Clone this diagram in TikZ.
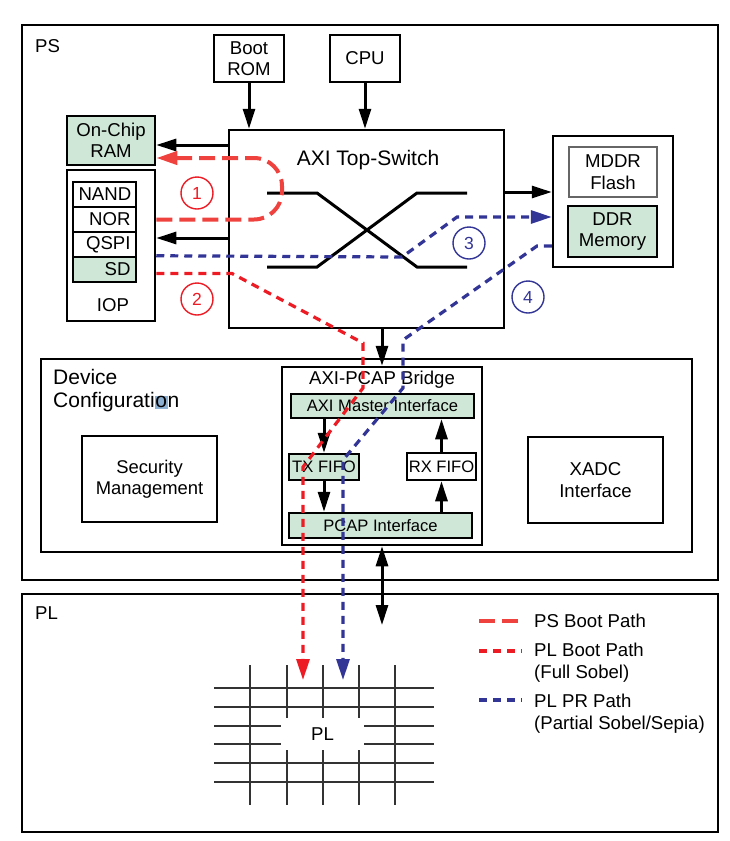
\documentclass[tikz,border=0pt]{standalone}
\usepackage{fontspec}
\setmainfont{Liberation Sans}
\usetikzlibrary{arrows.meta}
\definecolor{blkgreen}{RGB}{207,231,214}
\definecolor{psred}{RGB}{239,66,62}
\definecolor{plred}{RGB}{237,28,36}
\definecolor{prblue}{RGB}{50,52,150}
\definecolor{hlblue}{RGB}{140,176,210}
\tikzset{
	blk/.style={
		draw,
		line width=2.5pt,
		inner sep=0pt,
		align=center,
		font=\fontsize{18.6}{21.5}\selectfont
	},
	memcell/.style={blk, minimum width=63pt, minimum height=25pt, text width=52pt, align=right},
	grn/.style={fill=blkgreen},
	bus/.style={line width=3pt, -{Triangle[length=20pt,width=12pt]}},
	dtip/.style={-{Triangle[length=21pt,width=13pt]}},
	psboot/.style={psred, line width=4pt, dash pattern=on 16pt off 7pt},
	plboot/.style={plred, line width=3.2pt, dash pattern=on 8pt off 6pt},
	prpath/.style={prblue, line width=3.2pt, dash pattern=on 8pt off 6pt},
	stepno/.style={circle, draw, line width=1.4pt, minimum size=32pt, inner sep=0pt, font=\fontsize{17.5}{20}\selectfont},
	lbl/.style={inner sep=0pt, font=\fontsize{18.6}{21.5}\selectfont},
	fabric/.style={line width=1.5pt, black!80}
}

\begin{document}
\begin{tikzpicture}[x=1pt, y=-1pt]
	\useasboundingbox (0,0) rectangle (729,841);

	% PS / PL frames
	\node[blk, minimum width=696pt, minimum height=555pt] (ps) at (370,302.5) {};
	\node[blk, minimum width=696pt, minimum height=238pt] (pl) at (370,713) {};
	\node[lbl, anchor=base west] (pslbl) at (35,52) {PS};
	\node[lbl, anchor=base west] (pllbl) at (35,619) {PL};

	% processing system
	\node[blk, minimum width=70pt, minimum height=47pt] (bootrom) at (249,58.5) {Boot\\ROM};
	\node[blk, minimum width=70pt, minimum height=47pt] (cpu) at (365,58.5) {CPU};
	\node[blk, minimum width=275pt, minimum height=198pt] (axi) at (366.5,229) {};
	\node[lbl, font=\fontsize{21}{24}\selectfont] (axittl) at (368,160) {AXI Top-Switch};
	\draw[line width=3pt] (267,193) -- (317,193) -- (417,267) -- (467,267);
	\draw[line width=3pt] (267,267) -- (317,267) -- (417,193) -- (467,193);

	\node[blk, grn, minimum width=88pt, minimum height=49pt] (ram) at (111,140.5) {On-Chip\\RAM};
	\node[blk, minimum width=88pt, minimum height=151pt] (iop) at (111,245.5) {};
	\node[lbl] (ioplbl) at (113,305) {IOP};
	\node[memcell] (nand) at (104.5,194.5) {NAND};
	\node[memcell] (nor) at (104.5,219.5) {NOR};
	\node[memcell] (qspi) at (104.5,244.5) {QSPI};
	\node[memcell, grn] (sd) at (104.5,269.5) {SD};

	\node[blk, minimum width=120pt, minimum height=131pt] (ddrgrp) at (613,201.5) {};
	\node[blk, draw=black!60, line width=1.2pt, minimum width=88pt, minimum height=50pt] (mddr) at (613,172) {MDDR\\Flash};
	\node[blk, grn, minimum width=89pt, minimum height=51pt] (ddr) at (612.5,231.5) {DDR\\Memory};

	% device configuration
	\node[blk, minimum width=651pt, minimum height=193pt] (devcfg) at (366.5,455.5) {};
	\node[lbl, anchor=north west, align=left, font=\fontsize{21}{23.5}\selectfont] (devlbl) at (53,369)
		{Device\\Configurati{\setlength{\fboxsep}{0.6pt}\colorbox{hlblue}{o}}n};
	\node[blk, minimum width=135pt, minimum height=86pt, font=\fontsize{18.4}{21.5}\selectfont] (secmgmt) at (149.5,479) {Security\\Management};
	\node[blk, minimum width=135pt, minimum height=86pt] (xadc) at (595.5,480) {XADC\\Interface};
	\node[blk, minimum width=200pt, minimum height=178pt] (bridge) at (382,456) {};
	\node[lbl] (bridgelbl) at (382,380) {AXI-PCAP Bridge};
	\node[blk, grn, minimum width=183pt, minimum height=24pt, font=\fontsize{16.6}{19}\selectfont] (axim) at (382.5,406) {AXI Master Interface};
	\node[blk, grn, minimum width=70pt, minimum height=26pt, font=\fontsize{16.6}{19}\selectfont] (txfifo) at (324,467) {TX FIFO};
	\node[blk, minimum width=69pt, minimum height=27pt, font=\fontsize{16.6}{19}\selectfont] (rxfifo) at (441.5,466.5) {RX FIFO};
	\node[blk, grn, minimum width=183pt, minimum height=25pt, font=\fontsize{16.6}{19}\selectfont] (pcap) at (380.5,525.5) {PCAP Interface};

	% PL fabric
	\foreach \gx in {250,287,323,359,395}
		\draw[fabric] (\gx,665) -- (\gx,805);
	\foreach \gy in {688,707,726,744,763,782}
		\draw[fabric] (214,\gy) -- (434,\gy);
	\node[lbl, fill=white, minimum width=83pt, minimum height=32pt] (plcore) at (322.5,734) {PL};

	% buses
	\coordinate (ramin) at ([yshift=-4.5pt]ram.east);
	\coordinate (iopin) at ([yshift=7.5pt]iop.east);
	\coordinate (ddrin) at ([yshift=9.5pt]ddrgrp.west);
	\coordinate (plport) at (382,625);
	\draw[bus] (bootrom) -- (bootrom |- axi.north);
	\draw[bus] (cpu) -- (cpu |- axi.north);
	\draw[bus] (axi.west |- ramin) -- (ramin);
	\draw[bus] (axi.west |- iopin) -- (iopin);
	\draw[bus] (axi.east |- ddrin) -- (ddrin);
	\draw[bus] (axi.south -| bridge.north) -- (bridge.north);
	\draw[bus] (axim.south -| txfifo.north) -- (txfifo.north);
	\draw[bus] (txfifo.south) -- (txfifo.south |- pcap.north);
	\draw[bus] (pcap.north -| rxfifo.south) -- (rxfifo.south);
	\draw[bus] (rxfifo.north) -- (rxfifo.north |- axim.south);
	\draw[bus, {Triangle[length=20pt,width=12pt]}-{Triangle[length=20pt,width=12pt]}] (bridge.south) -- (plport);

	% boot paths
	\coordinate (norout) at (iop.east |- nor.east);
	\coordinate (ramret) at ([yshift=-17.5pt]ram.east);
	\draw[psboot, dtip, rounded corners=28pt] (norout) -- (282,219.5) -- (282,158) -- (ramret);

	\coordinate (sdout) at (iop.east |- sd.east);
	\coordinate (plredin) at (303,680);
	\draw[plboot, dtip] ([yshift=-4pt]sdout) -- (232,273.5) -- (363,343) -- (363,388) -- (303,467) -- (plredin);

	\coordinate (qspiout) at (iop.east |- sd.north);
	\coordinate (ddrin3) at ([yshift=-15.5pt]ddrgrp.west);
	\draw[prpath, dtip] (qspiout) -- (402,257) -- (457,217) -- (ddrin3);

	\coordinate (ddrout) at ([yshift=-44.5pt]ddrgrp.west);
	\coordinate (plbluein) at (343,680);
	\draw[prpath, dtip] (ddrout) -- (537,246) -- (403,340) -- (403,388) -- (343,460) -- (plbluein);

	\node[stepno, draw=plred, text=plred] (s1) at (197,193) {1};
	\node[stepno, draw=plred, text=plred] (s2) at (197,299) {2};
	\node[stepno, draw=prblue, text=prblue] (s3) at (469,243) {3};
	\node[stepno, draw=prblue, text=prblue] (s4) at (528,297) {4};

	% legend
	\node[lbl, anchor=west] (lgps) at (534,621) {PS Boot Path};
	\node[lbl, anchor=north west, align=left] (lgpl) at (534,643) {PL Boot Path\\(Full Sobel)};
	\node[lbl, anchor=north west, align=left] (lgpr) at (534,694) {PL PR Path\\(Partial Sobel/Sepia)};
	\coordinate (lgplpt) at ([yshift=-8pt]lgpl.north west);
	\coordinate (lgprpt) at ([yshift=-6pt]lgpr.north west);
	\draw[psboot] ([xshift=-55pt]lgps.west) -- ([xshift=-12pt]lgps.west);
	\draw[plboot] ([xshift=-55pt]lgplpt) -- ([xshift=-12pt]lgplpt);
	\draw[prpath] ([xshift=-55pt]lgprpt) -- ([xshift=-12pt]lgprpt);
\end{tikzpicture}
\end{document}
